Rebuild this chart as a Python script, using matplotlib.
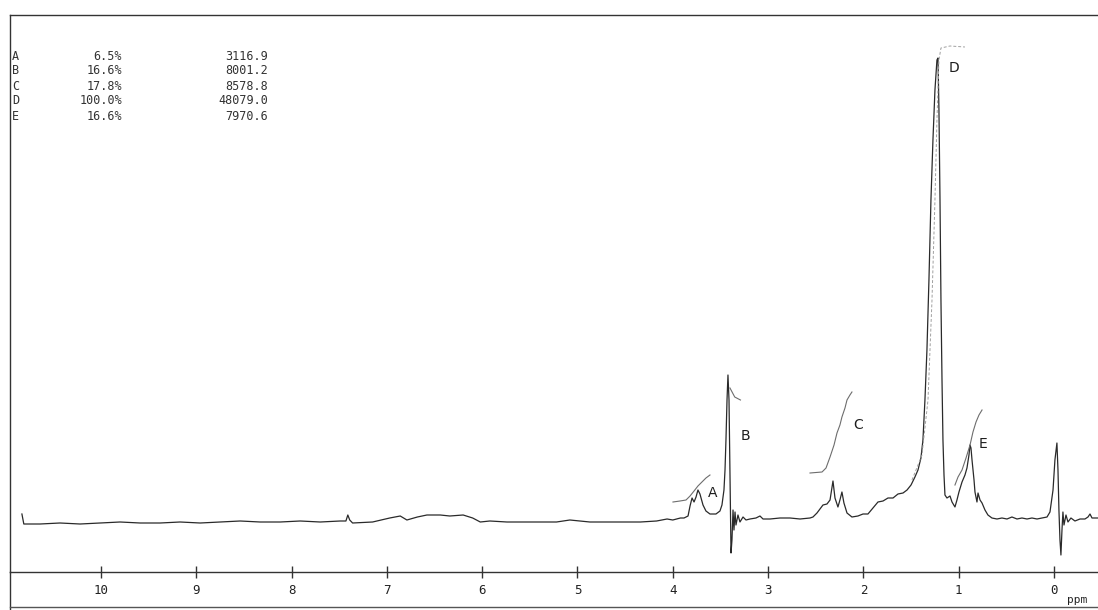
import matplotlib
matplotlib.use("Agg")
import matplotlib.pyplot as plt
from matplotlib.lines import Line2D

# ---------------- data (ppm, intensity) ----------------
spec_ppm = [10.83, 10.81, 10.64, 10.43, 10.22, 10.01, 9.80, 9.59, 9.38, 9.17, 8.96,
            8.75, 8.54, 8.33, 8.12, 7.91, 7.70, 7.49, 7.43, 7.41, 7.39, 7.36, 7.15,
            6.97, 6.86, 6.79, 6.68, 6.58, 6.44, 6.34, 6.20, 6.10, 6.02, 5.92, 5.74,
            5.57, 5.39, 5.22, 5.08, 4.97, 4.87, 4.69, 4.52, 4.34, 4.17, 4.06, 4.00,
            3.92, 3.882, 3.840, 3.819, 3.798, 3.777, 3.756, 3.736, 3.715, 3.683,
            3.652, 3.610, 3.547, 3.505, 3.484, 3.463, 3.452, 3.442, 3.431, 3.421,
            3.410, 3.400, 3.389, 3.379, 3.368, 3.358, 3.347, 3.337, 3.316, 3.295,
            3.263, 3.232, 3.190, 3.127, 3.085, 3.053, 2.980, 2.875, 2.770, 2.665,
            2.560, 2.529, 2.487, 2.424, 2.382, 2.350, 2.319, 2.298, 2.267, 2.246,
            2.225, 2.204, 2.172, 2.120, 2.057, 2.004, 1.952, 1.899, 1.847, 1.794,
            1.742, 1.689, 1.637, 1.584, 1.542, 1.500, 1.459, 1.427, 1.396, 1.375,
            1.354, 1.333, 1.312, 1.291, 1.270, 1.249, 1.228, 1.217, 1.207, 1.196,
            1.186, 1.175, 1.165, 1.154, 1.144, 1.123, 1.091, 1.070, 1.039, 1.018,
            0.997, 0.965, 0.934, 0.913, 0.892, 0.881, 0.871, 0.860, 0.839, 0.829,
            0.808, 0.797, 0.776, 0.755, 0.724, 0.693, 0.651, 0.598, 0.546, 0.493,
            0.441, 0.388, 0.336, 0.283, 0.231, 0.178, 0.126, 0.073, 0.042, 0.010,
            -0.010, -0.031, -0.042, -0.052, -0.063, -0.073, -0.084, -0.094, -0.105,
            -0.126, -0.147, -0.178, -0.220, -0.273, -0.325, -0.357, -0.378, -0.399,
            -0.441, -0.462]
spec_int = [9, -1, -1, 0, -1, 0, 1, 0, 0, 1, 0,
            1, 2, 1, 1, 2, 1, 2, 2, 8, 3, 0, 1,
            5, 7, 3, 6, 8, 8, 7, 8, 5, 1, 2, 1,
            1, 1, 1, 3, 2, 1, 1, 1, 1, 2, 4, 3,
            5, 5, 7, 17, 25, 21, 26, 33, 29, 18,
            12, 9, 9, 12, 18, 33, 53, 83, 123, 148,
            123, 53, -30, -17, 13, -7, 11, -2, 8, 1,
            6, 3, 4, 5, 7, 4, 4, 5, 5, 4,
            5, 6, 10, 18, 19, 23, 42, 25, 16, 23,
            31, 20, 10, 6, 7, 9, 9, 15, 21, 22,
            25, 25, 29, 30, 33, 38, 46, 53, 65, 83,
            123, 173, 243, 323, 383, 433, 463, 465, 413, 323,
            223, 143, 83, 48, 28, 25, 27, 21, 16, 23,
            31, 41, 48, 55, 68, 78, 75, 63, 43, 31,
            21, 30, 23, 20, 13, 8, 5, 4, 5, 4,
            6, 4, 5, 4, 5, 4, 5, 6, 11, 33,
            63, 80, 53, 13, -17, -32, -7, 11, -2,
            8, 1, 5, 2, 4, 4, 6, 9, 5,
            5, 5]

# integral traces
int_A_ppm = [3.998, 3.924, 3.861, 3.819, 3.777, 3.736, 3.694, 3.652, 3.610]
int_A_val = [21, 22, 23, 27, 32, 37, 41, 45, 48]
int_B_ppm = [3.40, 3.35, 3.29]
int_B_val = [135, 126, 123]
int_C_ppm = [2.560, 2.434, 2.392, 2.350, 2.308, 2.277, 2.246, 2.225, 2.193, 2.172, 2.141, 2.120]
int_C_val = [50, 51, 55, 66, 78, 90, 98, 106, 115, 123, 128, 131]
int_D_ppm = [1.490, 1.385, 1.322, 1.280, 1.249, 1.228, 1.207, 1.186, 1.091, 0.934]
int_D_val = [43, 68, 123, 223, 323, 403, 463, 475, 477, 476]
int_E_ppm = [1.039, 1.007, 0.965, 0.923, 0.881, 0.850, 0.818, 0.787, 0.755]
int_E_val = [38, 46, 53, 65, 78, 91, 101, 108, 113]

peak_labels = ["A", "B", "C", "D", "E"]
label_ppm = [3.578, 3.242, 2.057, 1.049, 0.745]
label_int = [30, 87, 98, 455, 79]

table_letters = ["A", "B", "C", "D", "E"]
table_percent = ["6.5%", "16.6%", "17.8%", "100.0%", "16.6%"]
table_values = ["3116.9", "8001.2", "8578.8", "48079.0", "7970.6"]

tick_values = [10, 9, 8, 7, 6, 5, 4, 3, 2, 1, 0]
tick_labels = ["10", "9", "8", "7", "6", "5", "4", "3", "2", "1", "0"]

# ---------------- figure ----------------
W, H = 1098, 610
fig = plt.figure(figsize=(W / 100, H / 100), dpi=100)
fig.patch.set_facecolor("white")

def fx(px):
    return px / W

def fy(py):
    return 1 - py / H

ax = fig.add_axes([fx(10), fy(572), 1 - fx(10), fy(15) - fy(572)])
ax.set_xlim(10.955, -0.462)
ax.set_ylim(-49, 508)

ink = "#2a2a2a"
ax.plot(spec_ppm, spec_int, color=ink, lw=0.9, solid_joinstyle="round")
for xs, ys in [(int_A_ppm, int_A_val), (int_B_ppm, int_B_val), (int_C_ppm, int_C_val),
               (int_E_ppm, int_E_val)]:
    ax.plot(xs, ys, color="#6d6d6d", lw=0.8)
ax.plot(int_D_ppm, int_D_val, color="#a0a0a0", lw=0.7, ls=(0, (3, 2)))

for lab, px_, iy in zip(peak_labels, label_ppm, label_int):
    ax.text(px_, iy, lab, ha="center", va="center", fontsize=10,
            family="DejaVu Sans", color="#1e1e1e")

ax.spines["right"].set_visible(False)
for s in ["top", "left", "bottom"]:
    ax.spines[s].set_color("#333333")
    ax.spines[s].set_linewidth(1.0)
ax.set_yticks([])
ax.set_xticks(tick_values)
ax.set_xticklabels(tick_labels, family="DejaVu Sans Mono", fontsize=9, color="#222222")
ax.tick_params(axis="x", direction="inout", length=8, width=1.0, color="#333333", pad=5)

# "ppm" unit label next to 0
fig.text(fx(1077), fy(600), "ppm", ha="center", va="center", fontsize=8,
         family="DejaVu Sans Mono", color="#222222")

# outer frame pieces below the scale
fig.add_artist(Line2D([fx(10), fx(10)], [fy(572), fy(610)], color="#333333", lw=1.0))
fig.add_artist(Line2D([fx(10), 1], [fy(607), fy(607)], color="#555555", lw=1.0))

# integration table
rows_y = [56, 71, 86, 101, 116]
for yy, a, p, v in zip(rows_y, table_letters, table_percent, table_values):
    fig.text(fx(12), fy(yy), a, ha="left", va="center", fontsize=8.5,
             family="DejaVu Sans Mono", color="#333333")
    fig.text(fx(122), fy(yy), p, ha="right", va="center", fontsize=8.5,
             family="DejaVu Sans Mono", color="#333333")
    fig.text(fx(268), fy(yy), v, ha="right", va="center", fontsize=8.5,
             family="DejaVu Sans Mono", color="#333333")

fig.savefig("out.png", dpi=100, facecolor="white")
